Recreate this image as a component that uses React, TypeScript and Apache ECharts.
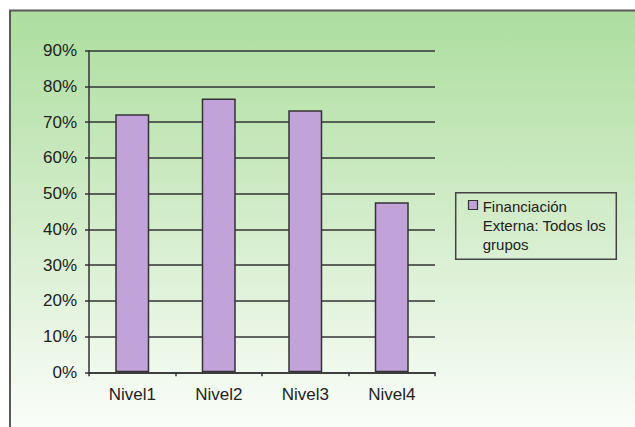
import React, { useEffect, useRef } from "react";
import * as echarts from "echarts";

const categories = ["Nivel1", "Nivel2", "Nivel3", "Nivel4"];
const values = [0.722, 0.766, 0.733, 0.476];
const seriesName = "Financiación Externa: Todos los grupos";
const legendLines = ["Financiación", "Externa: Todos los", "grupos"];

const FONT = "'Liberation Sans', Arial, Helvetica, sans-serif";
const BAR = "#c1a2d9";

export default function App() {
  const ref = useRef<HTMLDivElement>(null);
  useEffect(() => {
    if (!ref.current) return;
    const chart = echarts.init(ref.current, null, { renderer: "svg" });
    chart.setOption({
      animation: false,
      backgroundColor: "#ffffff",
      grid: { left: 89, top: 50.7, right: 200, bottom: 54.7, containLabel: false },
      xAxis: {
        type: "category",
        data: categories,
        axisLine: { show: true, lineStyle: { color: "#333", width: 1.5 } },
        axisTick: { show: true, length: 4, inside: false, lineStyle: { color: "#333", width: 1.5 } },
        axisLabel: { color: "#222", fontSize: 17, fontFamily: FONT, margin: 14 },
        splitLine: { show: false },
      },
      yAxis: {
        type: "value",
        min: 0,
        max: 0.9,
        interval: 0.1,
        axisLine: { show: true, lineStyle: { color: "#333", width: 1.5 } },
        axisTick: { show: true, length: 4, lineStyle: { color: "#333", width: 1.5 } },
        axisLabel: {
          color: "#222",
          fontSize: 17,
          fontFamily: FONT,
          margin: 12,
          formatter: (v: number) => Math.round(v * 100) + "%",
        },
        splitLine: { show: true, lineStyle: { color: "#333", width: 1.5 } },
      },
      graphic: [
        {
          type: "rect",
          z: -10,
          zlevel: 0,
          silent: true,
          shape: { x: 10, y: 10.5, width: 640, height: 430 },
          style: {
            fill: new echarts.graphic.LinearGradient(0, 0, 0, 1, [
              { offset: 0, color: "#acde9e" },
              { offset: 0.5, color: "#d4edcc" },
              { offset: 0.9, color: "#f5fbf3" },
              { offset: 1, color: "#fbfefa" },
            ]),
            stroke: "#595959",
            lineWidth: 2,
          },
        },
        {
          type: "group",
          children: [
            {
              type: "rect",
              shape: { x: 455.7, y: 192.7, width: 160.6, height: 66.6 },
              style: { fill: "rgba(0,0,0,0)", stroke: "#444", lineWidth: 1.5 },
            },
            {
              type: "rect",
              shape: { x: 468.5, y: 200.5, width: 9, height: 9 },
              style: { fill: BAR, stroke: "#333", lineWidth: 1.2 },
            },
            {
              type: "text",
              x: 482.7,
              y: 197,
              style: {
                text: legendLines.join("\n"),
                fontSize: 15,
                fontFamily: FONT,
                fill: "#222",
                lineHeight: 19,
                verticalAlign: "top",
                align: "left",
              },
            },
          ],
        },
      ],
      series: [
        {
          name: seriesName,
          type: "bar",
          data: values,
          barWidth: 34,
          itemStyle: { color: BAR, borderColor: "#333", borderWidth: 1.5 },
        },
      ],
    });
    return () => chart.dispose();
  }, []);
  return (
    <div
      ref={ref}
      style={{ position: "fixed", left: 0, top: 0, width: 635, height: 427 }}
    />
  );
}
